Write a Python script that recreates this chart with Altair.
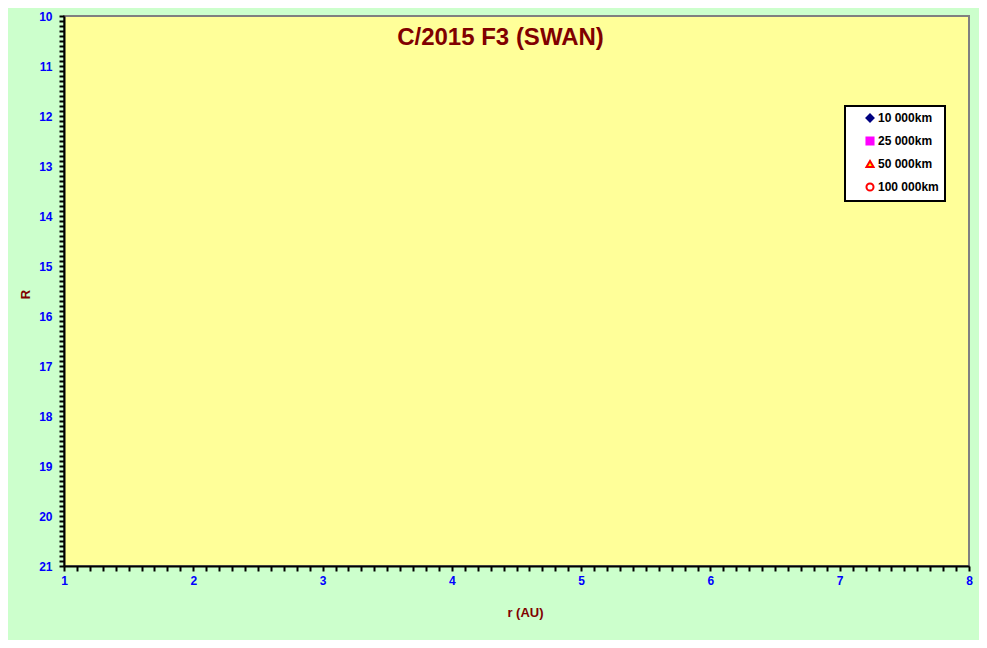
import altair as alt
import pandas as pd

# Series (no observations plotted in the reference)
series = ["10 000km", "25 000km", "50 000km", "100 000km"]
series_shapes = ["diamond", "square", "triangle-up", "circle"]
series_fill = ["#000080", "#FF00FF", "#FFFF00", "#FFFFFF"]
series_stroke = ["#000080", "#FF00FF", "#FF0000", "#FF0000"]
r_values = [None, None, None, None]
R_values = [None, None, None, None]

chart_title = "C/2015 F3 (SWAN)"
x_title = "r (AU)"
y_title = "R"

x_domain = [1, 8]
y_domain = [10, 21]
x_ticks = [round(1 + i * 0.1, 1) for i in range(71)]
y_ticks = [round(10 + i * 0.1, 1) for i in range(111)]

df = pd.DataFrame({"series": series, "r": r_values, "R": R_values})

FONT = "Liberation Sans"
label_expr = "abs(datum.value - round(datum.value)) < 0.001 ? format(datum.value, 'd') : ''"

common_axis = dict(
    grid=False,
    domainColor="black",
    domainWidth=2,
    tickColor="black",
    tickWidth=2,
    tickSize=5,
    labelColor="#0000FF",
    labelFont=FONT,
    labelFontSize=12,
    labelFontWeight="bold",
    labelOverlap=False,
    labelBound=False,
    labelFlush=False,
    labelExpr=label_expr,
    titleColor="#800000",
    titleFont=FONT,
    titleFontWeight="bold",
    titleFontSize=13,
)

legend = alt.Legend(
    title=None,
    orient="none",
    legendX=781,
    legendY=90,
    fillColor="white",
    strokeColor="black",
    padding=6,
    symbolOffset=13,
    symbolSize=50,
    symbolStrokeWidth=2,
    symbolOpacity=1,
    labelFont=FONT,
    labelFontSize=12,
    labelFontWeight="bold",
    labelColor="black",
    labelOffset=2,
    rowPadding=7,
)

x_scale = alt.Scale(domain=x_domain, nice=False, zero=False)
y_scale = alt.Scale(domain=y_domain, reverse=True, nice=False, zero=False)

points = (
    alt.Chart(df)
    .mark_point(strokeWidth=2, size=50, opacity=1)
    .encode(
        x=alt.X(
            "r:Q",
            scale=x_scale,
            axis=alt.Axis(
                values=x_ticks,
                title=x_title,
                labelPadding=4,
                titleX=461,
                titleY=46,
                titleBaseline="middle",
                **common_axis,
            ),
        ),
        y=alt.Y(
            "R:Q",
            scale=y_scale,
            axis=alt.Axis(
                values=y_ticks,
                title=y_title,
                labelPadding=7,
                titleX=-39,
                titleY=278,
                titleBaseline="middle",
                titleAlign="center",
                titleAngle=270,
                **common_axis,
            ),
        ),
        shape=alt.Shape(
            "series:N",
            scale=alt.Scale(domain=series, range=series_shapes),
            legend=legend,
        ),
        fill=alt.Fill(
            "series:N",
            scale=alt.Scale(domain=series, range=series_fill),
            legend=legend,
        ),
        stroke=alt.Stroke(
            "series:N",
            scale=alt.Scale(domain=series, range=series_stroke),
            legend=legend,
        ),
    )
)

# Top axis used only to carry the chart title inside the plot area
title_layer = (
    alt.Chart(df)
    .mark_point(opacity=0)
    .encode(
        x=alt.X(
            "r:Q",
            scale=x_scale,
            axis=alt.Axis(
                orient="top",
                title=chart_title,
                domain=False,
                ticks=False,
                labels=False,
                grid=False,
                titleFont=FONT,
                titleFontSize=24,
                titleFontWeight="bold",
                titleColor="#800000",
                titleX=436,
                titleY=28,
                titleAlign="center",
                titleBaseline="alphabetic",
            ),
        ),
    )
)

chart = (
    alt.layer(points, title_layer)
    .resolve_axis(x="independent")
    .properties(
        width=905,
        height=550,
        background="#CCFFCC",
        padding={"left": 56, "top": 8, "right": 10, "bottom": 74},
        autosize=alt.AutoSizeParams(type="none"),
    )
    .configure_view(fill="#FFFF99", stroke="#808080", strokeWidth=2)
    .configure_legend(strokeWidth=2)
)

chart.save("out.html", embed_options={"renderer": "svg", "actions": False})
